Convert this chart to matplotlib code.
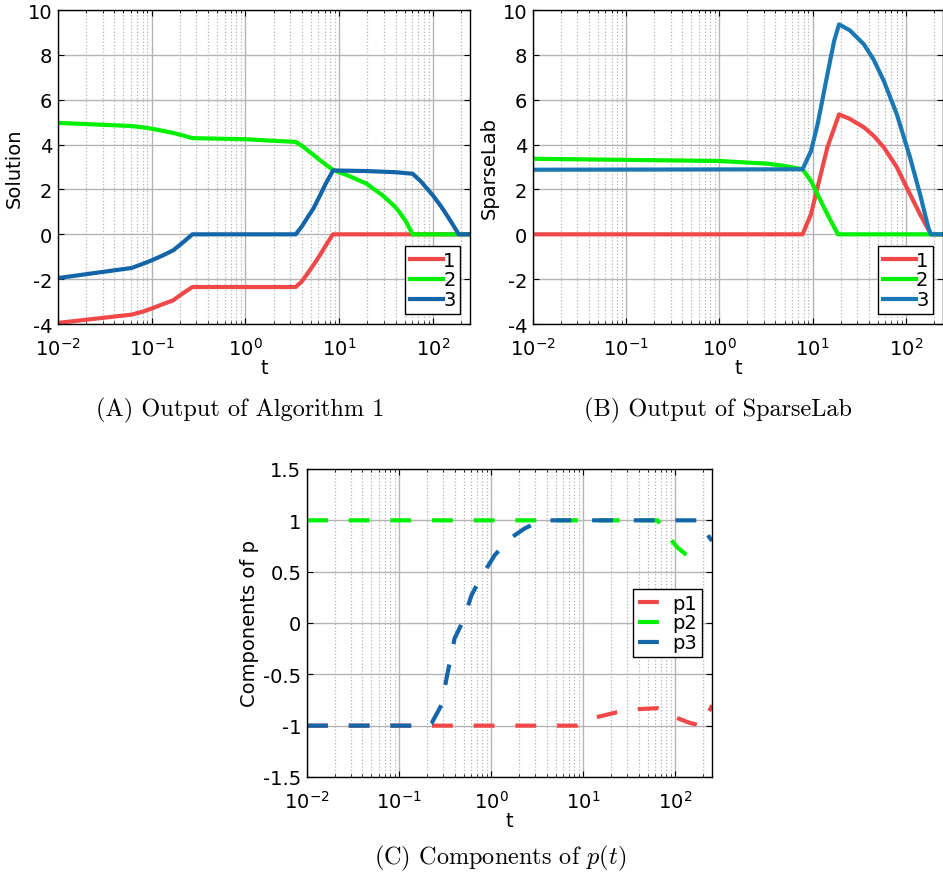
import matplotlib.pyplot as plt
from matplotlib.ticker import FuncFormatter, LogLocator, NullFormatter

plt.rcParams['axes.unicode_minus'] = False
plt.rcParams['mathtext.fontset'] = 'cm'

# (A) Output of Algorithm 1
a1_t = [0.01, 0.061, 0.08, 0.1, 0.13, 0.17, 0.21, 0.272, 3.44, 4.0, 4.6, 5.3, 6.2, 7.2, 8.0, 8.6, 250]
a1_y = [-3.95, -3.58, -3.45, -3.31, -3.12, -2.94, -2.66, -2.35, -2.35, -2.1, -1.75, -1.38, -0.95, -0.5, -0.2, 0.0, 0.0]
a2_t = [0.01, 0.061, 0.08, 0.1, 0.13, 0.17, 0.21, 0.272, 1.0, 3.44, 4.0, 5.3, 6.5, 8.6, 12, 19.6, 29, 38, 44, 52, 61, 250]
a2_y = [4.97, 4.83, 4.77, 4.71, 4.62, 4.52, 4.42, 4.29, 4.24, 4.12, 3.95, 3.55, 3.25, 2.87, 2.65, 2.26, 1.74, 1.3, 1.0, 0.55, 0.0, 0.0]
a3_t = [0.01, 0.061, 0.08, 0.1, 0.13, 0.17, 0.21, 0.272, 3.44, 4.0, 4.6, 5.3, 6.2, 7.2, 8.0, 8.6,
        20, 40, 61, 75, 100, 120, 138, 160, 189, 250]
a3_y = [-1.95, -1.5, -1.32, -1.16, -0.95, -0.71, -0.4, 0.0, 0.0, 0.35, 0.75, 1.14, 1.7, 2.26, 2.6, 2.85,
        2.82, 2.77, 2.7, 2.35, 1.74, 1.3, 0.92, 0.5, 0.0, 0.0]

# (B) Output of SparseLab
b1_t = [0.01, 7.8, 9.6, 11.3, 14.4, 19.2, 25, 35.5, 45, 58, 80, 111, 142, 186, 250]
b1_y = [0.0, 0.0, 0.89, 2.1, 3.88, 5.35, 5.15, 4.77, 4.4, 3.88, 2.99, 1.78, 0.89, 0.0, 0.0]
b2_t = [0.01, 1.0, 3.3, 5.0, 7.8, 9.6, 11.3, 14.4, 18.7, 250]
b2_y = [3.37, 3.27, 3.15, 3.05, 2.9, 2.38, 1.78, 0.89, 0.0, 0.0]
b3_t = [0.01, 7.8, 9.6, 11.3, 14.4, 17.0, 19.2, 25, 35.5, 45, 58, 80, 111, 142, 174, 186, 250]
b3_y = [2.88, 2.9, 3.71, 4.9, 7.13, 8.62, 9.36, 9.1, 8.47, 7.8, 6.84, 5.35, 3.42, 1.78, 0.3, 0.0, 0.0]

# (C) Components of p(t)
p1_t = [0.01, 8.5, 12.9, 23, 36.6, 64, 104, 140, 187, 242, 250]
p1_y = [-1.0, -1.0, -0.925, -0.87, -0.84, -0.83, -0.925, -0.97, -1.0, -0.83, -0.80]
p2_t = [0.01, 64, 88, 104, 165]
p2_y = [1.0, 1.0, 0.82, 0.74, 0.59]
p3_t = [0.01, 0.21, 0.224, 0.288, 0.327, 0.40, 0.495, 0.61, 0.78, 1.09, 1.58, 2.3, 3.5, 187, 231, 250]
p3_y = [-1.0, -1.0, -0.98, -0.80, -0.54, -0.15, 0.02, 0.27, 0.45, 0.66, 0.82, 0.92, 1.0, 1.0, 0.84, 0.80]

red = '#F04848'
green = '#00F000'


def style_axes(ax, ylim, yticks, ylabel):
    ax.set_xscale('log')
    ax.set_xlim(0.01, 250)
    ax.set_ylim(*ylim)
    ax.set_yticks(yticks)
    ax.yaxis.set_major_formatter(FuncFormatter(lambda v, p: '%g' % v))
    ax.xaxis.set_major_locator(LogLocator(base=10, numticks=10))
    ax.xaxis.set_minor_locator(LogLocator(base=10, subs=range(2, 10), numticks=20))
    ax.xaxis.set_minor_formatter(NullFormatter())
    ax.grid(True, which='major', color='#b4b4b4', lw=1.0, ls='-')
    ax.grid(True, which='minor', axis='x', color='#b4b4b4', lw=0.9, ls=':')
    ax.set_axisbelow(True)
    ax.tick_params(which='both', direction='in', top=True, right=True, labelsize=14)
    ax.tick_params(which='major', length=4)
    ax.tick_params(which='minor', length=2)
    ax.tick_params(axis='x', pad=9)
    ax.tick_params(axis='y', pad=4)
    ax.set_xlabel('t', fontsize=14, labelpad=0)
    ax.set_ylabel(ylabel, fontsize=14, labelpad=3)
    for s in ax.spines.values():
        s.set_linewidth(1.0)


def add_legend(ax, loc, hl, tp):
    leg = ax.legend(loc=loc, fontsize=14, handlelength=hl, handletextpad=tp,
                    borderaxespad=0.5, borderpad=0.25, labelspacing=0.05, fancybox=False,
                    edgecolor='black', framealpha=1)
    leg.get_frame().set_linewidth(1.0)


fig = plt.figure(figsize=(9.43, 8.78), dpi=100)

axA = fig.add_axes([0.0615, 0.6298, 0.437, 0.3576])
axA.plot(a1_t, a1_y, color=red, lw=3, label='1')
axA.plot(a2_t, a2_y, color=green, lw=3, label='2')
axA.plot(a3_t, a3_y, color='#1464A8', lw=3, label='3')
style_axes(axA, (-4, 10), range(-4, 11, 2), 'Solution')
add_legend(axA, 'lower right', 1.7, 0.0)

axB = fig.add_axes([0.565, 0.6298, 0.435, 0.3576])
axB.plot(b1_t, b1_y, color=red, lw=3, label='1')
axB.plot(b2_t, b2_y, color=green, lw=3, label='2')
axB.plot(b3_t, b3_y, color='#1A78B5', lw=3, label='3')
style_axes(axB, (-4, 10), range(-4, 11, 2), 'SparseLab')
add_legend(axB, 'lower right', 1.7, 0.0)

axC = fig.add_axes([0.3256, 0.1139, 0.4295, 0.3508])
axC.plot(p1_t, p1_y, color=red, lw=3, dashes=(5, 5), label='p1')
axC.plot(p2_t, p2_y, color=green, lw=3, dashes=(5, 5), label='p2')
axC.plot(p3_t, p3_y, color='#1466AA', lw=3, dashes=(5, 5), label='p3')
style_axes(axC, (-1.5, 1.5), [-1.5, -1, -0.5, 0, 0.5, 1, 1.5], 'Components of p')
add_legend(axC, 'center right', 1.2, 0.6)

fig.text(240 / 943, 1 - 410 / 878, '(A) Output of Algorithm 1', family='cmr10',
         fontsize=17.5, ha='center', va='center')
fig.text(718 / 943, 1 - 410 / 878, '(B) Output of SparseLab', family='cmr10',
         fontsize=17.5, ha='center', va='center')
fig.text(500 / 943, 1 - 858 / 878, r'(C) Components of $p(t)$', family='cmr10',
         fontsize=17.5, ha='center', va='center')

fig.savefig('out.png', dpi=100)
